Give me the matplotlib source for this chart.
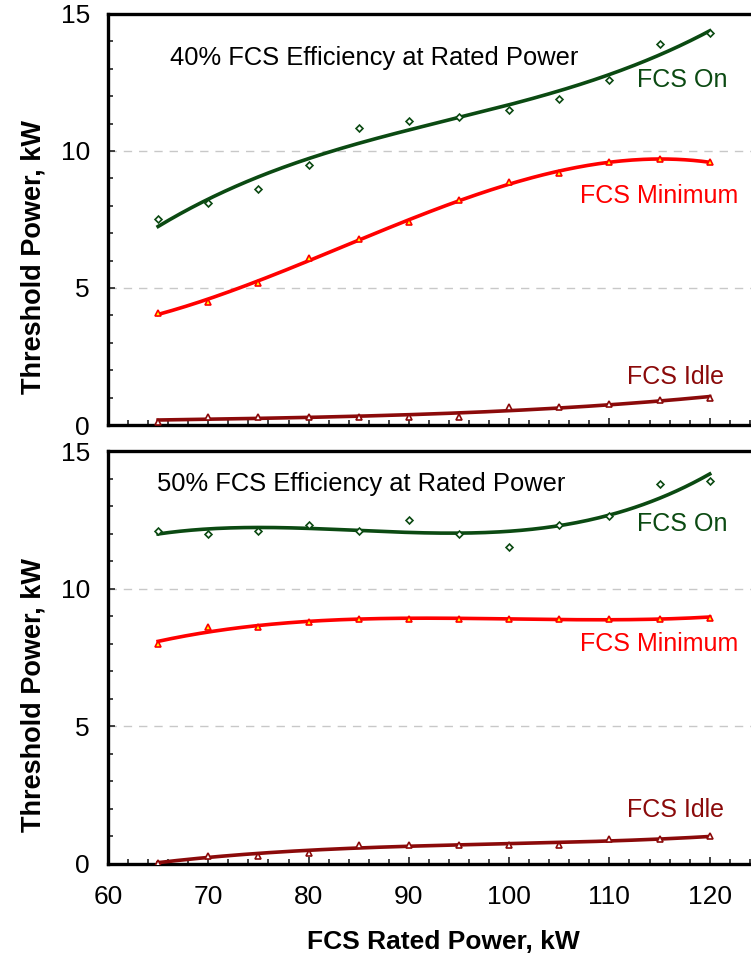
import matplotlib.pyplot as plt
import numpy as np
from matplotlib.ticker import MultipleLocator

plt.rcParams['font.family'] = ['Liberation Sans', 'DejaVu Sans']

# FCS rated power, kW
rated = [65, 70, 75, 80, 85, 90, 95, 100, 105, 110, 115, 120]

# 40% FCS efficiency at rated power
on_40 = [7.5, 8.1, 8.6, 9.5, 10.85, 11.1, 11.25, 11.5, 11.9, 12.6, 13.9, 14.3]
min_40 = [4.1, 4.5, 5.2, 6.1, 6.8, 7.4, 8.2, 8.85, 9.2, 9.6, 9.7, 9.6]
idle_40 = [0.1, 0.3, 0.3, 0.3, 0.3, 0.3, 0.3, 0.65, 0.65, 0.75, 0.9, 1.0]

# 50% FCS efficiency at rated power
on_50 = [12.1, 12.0, 12.1, 12.3, 12.1, 12.5, 12.0, 11.5, 12.3, 12.65, 13.8, 13.9]
min_50 = [8.0, 8.6, 8.6, 8.8, 8.9, 8.9, 8.9, 8.9, 8.9, 8.9, 8.9, 8.95]
idle_50 = [0.05, 0.3, 0.3, 0.4, 0.7, 0.7, 0.7, 0.7, 0.7, 0.9, 0.9, 1.0]

c_on = '#0b4a12'
c_min = '#ff0000'
c_idle = '#8b0a0a'

fig = plt.figure(figsize=(7.51, 9.57), dpi=100)
ax1 = fig.add_axes([0.1438, 0.5559, 0.868, 0.4295])
ax2 = fig.add_axes([0.1438, 0.0972, 0.868, 0.4315])


def series(ax, y, color, marker, mfc, ms):
    x = np.array(rated, dtype=float)
    p = np.polyfit(x, y, 3)
    xs = np.linspace(x[0], x[-1], 200)
    ax.plot(xs, np.polyval(p, xs), color=color, lw=2.6, zorder=3)
    ax.plot(x, y, ls='none', marker=marker, ms=ms, mfc=mfc, mec=color,
            mew=1.2, zorder=4)


def style(ax, show_x):
    ax.set_xlim(60, 125)
    ax.set_ylim(0, 15)
    ax.xaxis.set_major_locator(MultipleLocator(10))
    ax.xaxis.set_minor_locator(MultipleLocator(2))
    ax.yaxis.set_major_locator(MultipleLocator(5))
    ax.yaxis.set_minor_locator(MultipleLocator(1))
    ax.tick_params(which='both', direction='in', top=False, right=False,
                   labelsize=19, width=1.2, color='#222222')
    ax.tick_params(which='major', length=5)
    ax.tick_params(which='minor', length=3.5)
    ax.tick_params(axis='x', pad=15)
    ax.tick_params(axis='y', pad=13)
    if not show_x:
        ax.tick_params(axis='x', labelbottom=False)
    for s in ax.spines.values():
        s.set_linewidth(2.4)
    ax.yaxis.grid(True, color='#c8c8c8', ls=(0, (6, 5)), lw=1)
    ax.set_axisbelow(True)
    ax.set_ylabel('Threshold Power, kW', fontsize=19.5, fontweight='bold')
    ax.yaxis.set_label_coords(-0.095, 0.409)


series(ax1, on_40, c_on, 'D', 'white', 3.5)
series(ax1, min_40, c_min, '^', '#ffff00', 5)
series(ax1, idle_40, c_idle, '^', 'white', 5)
style(ax1, False)
ax1.text(66.2, 13.4, '40% FCS Efficiency at Rated Power', fontsize=18.4,
         va='center', ha='left')
ax1.text(112.7, 12.6, 'FCS On', fontsize=18, color=c_on, va='center')
ax1.text(107.1, 8.36, 'FCS Minimum', fontsize=18, color=c_min, va='center')
ax1.text(111.8, 1.75, 'FCS Idle', fontsize=18, color=c_idle, va='center')

series(ax2, on_50, c_on, 'D', 'white', 3.5)
series(ax2, min_50, c_min, '^', '#ffff00', 5)
series(ax2, idle_50, c_idle, '^', 'white', 5)
style(ax2, True)
ax2.text(64.9, 13.8, '50% FCS Efficiency at Rated Power', fontsize=18.4,
         va='center', ha='left')
ax2.text(112.7, 12.35, 'FCS On', fontsize=18, color=c_on, va='center')
ax2.text(107.1, 7.99, 'FCS Minimum', fontsize=18, color=c_min, va='center')
ax2.text(111.8, 1.96, 'FCS Idle', fontsize=18, color=c_idle, va='center')
ax2.set_xlabel('FCS Rated Power, kW', fontsize=19, fontweight='bold')
ax2.xaxis.set_label_coords(0.515, -0.16)

fig.savefig('out.png', dpi=100)
